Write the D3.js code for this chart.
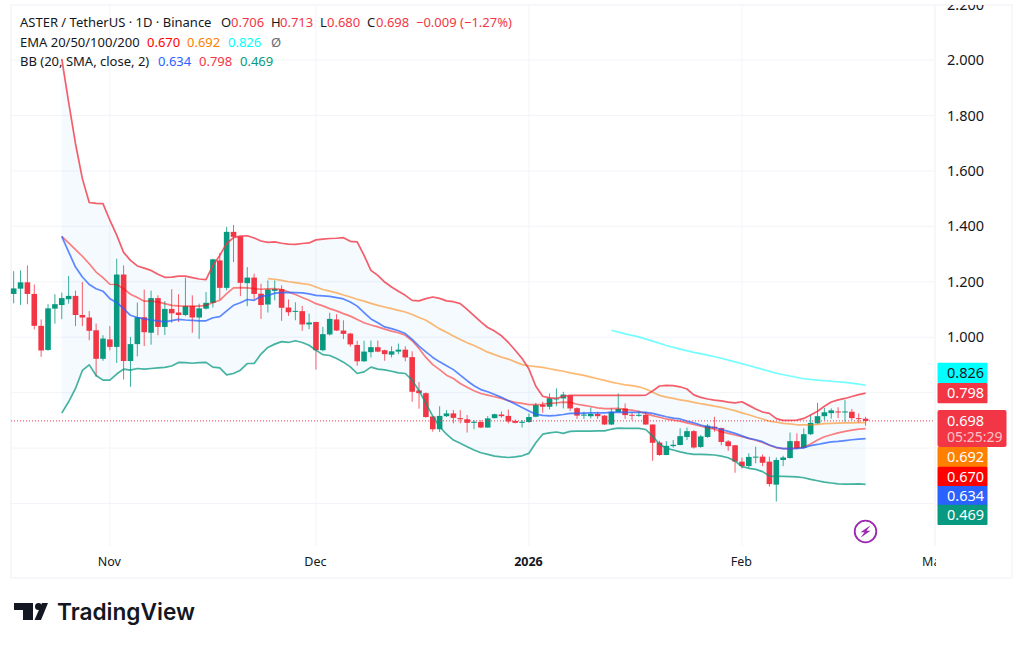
<!DOCTYPE html>
<html>
<head>
	<meta charset="utf-8">
	<title>ASTER / TetherUS</title>
	<script src="https://cdn.jsdelivr.net/npm/d3@7"></script>
	<style>
		body { margin: 0; background: #fff; }
		text { font-family: "Noto Sans", sans-serif; }
	</style>
</head>
<body>
	<div id="chart"></div>
	<script>
		// candles, one per day from the first date
		const firstDate = new Date(Date.UTC(2025, 9, 18));

		const opens = [
			1.156,1.175,1.198,1.156,1.041,.954,1.103,1.116,1.137,1.149,
			1.080,1.071,1.025,.922,.992,.965,1.226,.914,.975,1.072,
			1.016,1.141,1.037,1.102,1.089,1.080,1.112,1.071,1.103,1.124,
			1.277,1.178,1.380,1.364,1.195,1.215,1.157,1.118,1.167,1.173,
			1.107,1.092,1.094,1.046,1.055,.953,1.010,1.064,1.024,1.013,
			.972,.913,.946,.964,.953,.937,.948,.955,.928,.808,
			.798,.714,.668,.715,.725,.708,.704,.691,.694,.674,
			.708,.721,.716,.698,.691,.694,.713,.756,.749,.777,
			.779,.790,.744,.717,.715,.723,.717,.685,.730,.743,
			.720,.718,.720,.685,.620,.575,.607,.611,.640,.661,
			.604,.640,.677,.672,.624,.610,.551,.535,.566,.569,
			.551,.468,.557,.564,.625,.600,.650,.689,.715,.726,
			.732,.730,.731,.708,.706
		];
		const closes = [
			1.176,1.198,1.156,1.041,.952,1.104,1.119,1.141,1.149,1.080,
			1.071,1.023,.922,.995,.965,1.226,.914,.975,1.072,1.018,
			1.141,1.037,1.102,1.086,1.080,1.112,1.071,1.104,1.124,1.281,
			1.178,1.380,1.362,1.196,1.215,1.156,1.116,1.172,1.173,1.106,
			1.090,1.095,1.046,1.053,.953,1.011,1.066,1.024,1.012,.974,
			.913,.948,.964,.948,.939,.949,.955,.927,.803,.798,
			.712,.668,.716,.725,.709,.704,.691,.695,.674,.707,
			.722,.715,.696,.691,.695,.712,.755,.749,.780,.779,
			.793,.743,.717,.721,.723,.715,.685,.731,.741,.719,
			.718,.720,.685,.619,.575,.608,.612,.643,.661,.602,
			.642,.681,.671,.622,.607,.551,.535,.568,.569,.547,
			.470,.557,.566,.625,.600,.650,.691,.715,.729,.736,
			.729,.732,.708,.706,.698
		];
		const highs = [
			1.238,1.241,1.259,1.190,1.064,1.119,1.155,1.161,1.221,1.168,
			1.199,1.094,1.049,1.007,1.040,1.283,1.259,1.001,1.125,1.172,
			1.168,1.151,1.130,1.173,1.155,1.215,1.151,1.121,1.163,1.283,
			1.304,1.398,1.405,1.365,1.253,1.229,1.193,1.205,1.205,1.187,
			1.136,1.126,1.113,1.085,1.055,1.037,1.088,1.083,1.061,1.016,
			.987,.987,.988,.988,.955,.967,.977,.967,.949,.838,
			.801,.715,.751,.737,.737,.737,.719,.701,.701,.715,
			.724,.732,.739,.703,.701,.725,.763,.767,.797,.815,
			.803,.792,.747,.731,.747,.731,.719,.743,.797,.761,
			.731,.735,.731,.685,.626,.625,.629,.671,.674,.665,
			.647,.687,.713,.674,.629,.611,.566,.581,.605,.577,
			.569,.566,.572,.656,.653,.671,.721,.763,.745,.743,
			.747,.773,.741,.725,.713
		];
		const lows = [
			1.122,1.116,1.119,1.028,.929,.951,1.049,1.065,1.121,1.040,
			1.040,.989,.857,.915,.953,.907,.847,.821,.931,.968,
			.973,1.007,1.008,1.052,1.055,1.076,1.016,.994,1.100,1.107,
			1.136,1.169,1.271,1.148,1.112,1.136,1.066,1.089,1.133,1.059,
			1.077,1.061,1.023,1.029,.883,.949,1.006,1.022,.993,.966,
			.897,.911,.927,.946,.915,.927,.939,.913,.767,.742,
			.709,.659,.658,.712,.689,.689,.656,.668,.672,.673,
			.707,.710,.689,.689,.674,.691,.711,.727,.739,.751,
			.743,.734,.705,.705,.707,.705,.683,.683,.729,.705,
			.701,.713,.683,.554,.572,.574,.602,.610,.629,.598,
			.601,.637,.659,.610,.590,.511,.526,.527,.545,.535,
			.461,.407,.535,.562,.595,.598,.647,.686,.701,.706,
			.708,.695,.701,.691,.680
		];

		// bollinger bands and ema 20 start on day 7
		const bandStartDay = 7;
		const bbUpper = [
			2.004,1.848,1.698,1.572,1.486,1.483,1.482,1.422,1.368,1.306,
			1.277,1.257,1.249,1.241,1.227,1.216,1.217,1.220,1.220,1.215,
			1.210,1.208,1.259,1.295,1.338,1.359,1.365,1.366,1.358,1.347,
			1.342,1.344,1.339,1.336,1.335,1.338,1.340,1.351,1.354,1.356,
			1.357,1.359,1.346,1.344,1.295,1.241,1.223,1.199,1.181,1.166,
			1.151,1.133,1.131,1.139,1.145,1.140,1.131,1.128,1.121,1.100,
			1.078,1.055,1.035,1.022,1.005,.981,.953,.923,.885,.823,
			.787,.781,.779,.787,.790,.790,.790,.790,.790,.790,
			.790,.790,.790,.790,.790,.791,.806,.824,.826,.825,
			.821,.813,.792,.783,.777,.773,.770,.766,.763,.767,
			.754,.741,.730,.725,.706,.700,.700,.701,.707,.719,
			.733,.751,.766,.774,.779,.786,.793,.798
		];
		const bbBasis = [
			1.364,1.308,1.253,1.217,1.190,1.175,1.166,1.139,1.125,1.103,
			1.079,1.071,1.066,1.062,1.059,1.055,1.060,1.064,1.062,1.061,
			1.059,1.059,1.070,1.074,1.095,1.115,1.124,1.136,1.133,1.148,
			1.150,1.159,1.161,1.162,1.161,1.160,1.156,1.151,1.149,1.147,
			1.143,1.138,1.127,1.112,1.089,1.066,1.052,1.037,1.031,1.023,
			1.013,.992,.968,.947,.927,.911,.897,.883,.863,.843,
			.825,.811,.803,.793,.783,.771,.759,.746,.734,.722,
			.718,.716,.718,.721,.725,.725,.726,.727,.727,.727,
			.729,.730,.729,.729,.729,.729,.725,.719,.713,.708,
			.705,.697,.691,.683,.677,.674,.667,.660,.653,.644,
			.635,.630,.623,.611,.603,.598,.598,.599,.601,.609,
			.613,.618,.622,.624,.627,.630,.632,.634
		];
		const bbLower = [
			.726,.767,.815,.880,.900,.862,.845,.845,.867,.885,
			.881,.887,.885,.887,.889,.891,.896,.909,.908,.906,
			.908,.909,.892,.889,.864,.869,.881,.905,.905,.939,
			.963,.975,.984,.981,.987,.981,.971,.953,.937,.934,
			.923,.910,.893,.869,.875,.892,.885,.882,.877,.871,
			.869,.845,.807,.761,.715,.677,.650,.629,.617,.605,
			.593,.583,.577,.571,.568,.566,.568,.572,.581,.619,
			.650,.655,.658,.653,.660,.661,.661,.661,.662,.662,
			.668,.672,.671,.671,.671,.667,.643,.614,.599,.593,
			.586,.581,.577,.577,.576,.575,.571,.565,.553,.533,
			.527,.523,.515,.499,.498,.498,.497,.496,.493,.487,
			.482,.477,.474,.471,.470,.470,.471,.469
		];
		const ema20 = [
			1.364,1.340,1.316,1.292,1.265,1.235,1.215,1.191,1.190,1.175,
			1.155,1.143,1.130,1.130,1.127,1.121,1.115,1.113,1.112,1.112,
			1.112,1.115,1.124,1.133,1.157,1.178,1.179,1.178,1.175,1.173,
			1.174,1.175,1.172,1.163,1.154,1.143,1.133,1.121,1.113,1.103,
			1.095,1.085,1.076,1.064,1.052,1.044,1.037,1.029,1.022,1.016,
			1.007,.987,.959,.927,.901,.883,.863,.851,.833,.819,
			.807,.797,.791,.785,.779,.771,.765,.761,.757,.757,
			.758,.761,.763,.766,.765,.758,.754,.750,.745,.742,
			.742,.743,.739,.737,.732,.725,.717,.711,.705,.701,
			.697,.691,.685,.679,.674,.668,.659,.653,.647,.641,
			.635,.628,.620,.610,.601,.598,.598,.600,.603,.615,
			.629,.641,.648,.655,.660,.665,.668,.670
		];

		const ema50StartDay = 37;
		const ema50 = [
			1.211,1.209,1.205,1.200,1.197,1.193,1.190,1.181,1.172,1.166,
			1.160,1.152,1.145,1.137,1.130,1.122,1.115,1.109,1.103,1.097,
			1.091,1.082,1.071,1.061,1.046,1.030,1.018,1.004,.992,.980,
			.970,.958,.946,.937,.928,.921,.911,.901,.897,.894,
			.891,.886,.881,.877,.871,.867,.862,.856,.850,.844,
			.838,.833,.828,.825,.821,.813,.801,.790,.784,.779,
			.774,.770,.765,.760,.756,.751,.747,.741,.735,.727,
			.720,.712,.705,.697,.693,.689,.687,.684,.684,.684,
			.685,.688,.689,.690,.691,.691,.692,.692
		];

		// ema 100 read every second day
		const ema100Days = [87,89,91,93,95,97,99,101,103,105,107,109,111,113,115,117,119,121,123,124];
		const ema100 = [1.025,1.012,1.001,.986,.970,.957,.945,.935,.924,.911,.898,.884,.870,.860,.850,.845,.841,.837,.831,.826];

		// the labels of 0.800, 0.600 and 0.400 sit behind the price tags, so only their grid lines show
		const priceTicks = [2.2, 2.0, 1.8, 1.6, 1.4, 1.2, 1.0];
		const gridTicks = [2.0, 1.8, 1.6, 1.4, 1.2, 1.0, 0.8, 0.6, 0.4];
		const monthTicks = [new Date(Date.UTC(2025, 10, 1)), new Date(Date.UTC(2025, 11, 1)), new Date(Date.UTC(2026, 0, 1)), new Date(Date.UTC(2026, 1, 1)), new Date(Date.UTC(2026, 2, 1))];
		const monthLabels = ["Nov", "Dec", "2026", "Feb", "Mar"];

		const lastPrice = 0.698;
		const lastTimer = "05:25:29";
		const tagValues = [0.826, 0.798, 0.692, 0.670, 0.634, 0.469];
		const tagColors = ["#00ffff", "#f23645", "#ff8000", "#ff0000", "#2962ff", "#089981"];
		const tagTops = [362.7, 383, 446.7, 466.7, 486, 504.7];

		const upColor = "#089981";
		const downColor = "#f23645";
		const inkColor = "#131722";
		const gridColor = "#f2f4f9";

		const width = 1024;
		const height = 647;
		const plotLeft = 11;
		const plotRight = 935;
		const plotTop = 5;
		const plotBottom = 546;
		const frameRight = 1012;
		const frameBottom = 578;

		const dayDate = i => d3.utcDay.offset(firstDate, i);

		const x = d3.scaleUtc()
			.domain([firstDate, dayDate(opens.length - 1)])
			.range([13.67, 865.6]);
		const y = d3.scaleLinear()
			.domain([0.4, 2.0])
			.range([503.5, 60]);

		const svg = d3.select("#chart").append("svg")
			.attr("width", width)
			.attr("height", height)
			.attr("viewBox", [0, 0, width, height])
			.style("display", "block");

		const defs = svg.append("defs");
		defs.append("clipPath").attr("id", "price-clip").append("rect")
			.attr("x", -12).attr("y", plotTop).attr("width", 70).attr("height", plotBottom - plotTop);
		defs.append("clipPath").attr("id", "time-clip").append("rect")
			.attr("x", plotLeft).attr("y", -10).attr("width", plotRight + 2 - plotLeft).attr("height", 30);

		// frame
		svg.append("rect")
			.attr("x", plotLeft).attr("y", plotTop)
			.attr("width", frameRight - plotLeft).attr("height", frameBottom - plotTop)
			.attr("fill", "none").attr("stroke", "#eef0f5");
		svg.append("line")
			.attr("x1", plotRight).attr("x2", plotRight).attr("y1", plotTop).attr("y2", plotBottom)
			.attr("stroke", "#eef0f5");

		// grid
		svg.append("g").selectAll("line")
			.data(gridTicks)
			.join("line")
			.attr("x1", plotLeft).attr("x2", plotRight)
			.attr("y1", d => y(d)).attr("y2", d => y(d))
			.attr("stroke", gridColor);
		svg.append("g").selectAll("line")
			.data(monthTicks.slice(0, 4))
			.join("line")
			.attr("x1", d => x(d)).attr("x2", d => x(d))
			.attr("y1", plotTop).attr("y2", plotBottom)
			.attr("stroke", gridColor);

		// axes
		const yAxis = d3.axisRight(y)
			.tickValues(priceTicks)
			.tickFormat(d3.format(".3f"))
			.tickSize(0)
			.tickPadding(0);
		svg.append("g")
			.attr("transform", `translate(${plotRight + 12},0)`)
			.attr("clip-path", "url(#price-clip)")
			.call(yAxis)
			.call(g => g.select(".domain").remove())
			.call(g => g.selectAll("text").attr("fill", inkColor).attr("font-size", 14.5).attr("font-family", '"Noto Sans", sans-serif'));

		const xAxis = d3.axisBottom(x)
			.tickValues(monthTicks)
			.tickFormat((d, i) => monthLabels[i])
			.tickSize(0)
			.tickPadding(0);
		svg.append("g")
			.attr("clip-path", "url(#time-clip)")
			.attr("transform", "translate(-1,557.5)")
			.call(xAxis)
			.call(g => g.select(".domain").remove())
			.call(g => g.selectAll("text")
				.attr("fill", inkColor)
				.attr("font-size", 12.5)
				.attr("font-family", '"Noto Sans", sans-serif')
				.attr("font-weight", (d, i) => monthLabels[i] === "2026" ? 700 : 400));

		// band fill
		const bandDays = d3.range(bbUpper.length);
		svg.append("path")
			.datum(bandDays)
			.attr("fill", "#2196f3")
			.attr("fill-opacity", 0.05)
			.attr("d", d3.area()
				.x(i => x(dayDate(i + bandStartDay)))
				.y0(i => y(bbLower[i]))
				.y1(i => y(bbUpper[i])));

		// candles
		const candleDays = d3.range(opens.length);
		const candleColor = i => closes[i] >= opens[i] ? upColor : downColor;
		const candles = svg.append("g");
		candles.selectAll("line")
			.data(candleDays)
			.join("line")
			.attr("x1", i => x(dayDate(i))).attr("x2", i => x(dayDate(i)))
			.attr("y1", i => y(highs[i])).attr("y2", i => y(lows[i]))
			.attr("stroke", candleColor)
			.attr("stroke-width", 1)
			.attr("stroke-opacity", 0.8);
		candles.selectAll("rect")
			.data(candleDays)
			.join("rect")
			.attr("x", i => x(dayDate(i)) - 2.8)
			.attr("width", 5.6)
			.attr("y", i => y(Math.max(opens[i], closes[i])))
			.attr("height", i => Math.max(1, Math.abs(y(opens[i]) - y(closes[i]))))
			.attr("fill", candleColor);

		// indicator lines
		const drawLine = (values, dayOf, color, opacity) => {
			svg.append("path")
				.datum(values)
				.attr("fill", "none")
				.attr("stroke", color)
				.attr("stroke-opacity", opacity)
				.attr("stroke-width", 1.7)
				.attr("stroke-linejoin", "round")
				.attr("d", d3.line()
					.x((d, i) => x(dayDate(dayOf(i))))
					.y(d => y(d)));
		};
		drawLine(ema100, i => ema100Days[i], "#00ffff", 0.55);
		drawLine(ema50, i => i + ema50StartDay, "#ff8000", 0.55);
		drawLine(ema20, i => i + bandStartDay, "#ff0000", 0.5);
		drawLine(bbBasis, i => i + bandStartDay, "#2962ff", 0.75);
		drawLine(bbUpper, i => i + bandStartDay, "#f23645", 0.8);
		drawLine(bbLower, i => i + bandStartDay, "#089981", 0.75);

		// last price line
		svg.append("line")
			.attr("x1", plotLeft).attr("x2", plotRight)
			.attr("y1", y(lastPrice)).attr("y2", y(lastPrice))
			.attr("stroke", downColor)
			.attr("stroke-dasharray", "1 2");

		// price tags
		const tagFormat = d3.format(".3f");
		const tagX = 937.5;
		const tagWidth = 50;
		const tags = svg.append("g");
		tagValues.forEach((v, i) => {
			tags.append("rect")
				.attr("x", tagX).attr("y", tagTops[i])
				.attr("width", tagWidth).attr("height", 20.3)
				.attr("rx", 1)
				.attr("fill", tagColors[i]);
			tags.append("text")
				.attr("x", tagX + 9.5).attr("y", tagTops[i] + 15)
				.attr("font-size", 14.5)
				.attr("fill", tagColors[i] === "#00ffff" ? inkColor : "#fff")
				.text(tagFormat(v));
		});
		tags.append("rect")
			.attr("x", tagX).attr("y", 410)
			.attr("width", 69).attr("height", 37)
			.attr("rx", 2)
			.attr("fill", downColor);
		tags.append("text")
			.attr("x", tagX + 9.5).attr("y", 425.5)
			.attr("font-size", 14.5).attr("fill", "#fff")
			.text(tagFormat(lastPrice));
		tags.append("text")
			.attr("x", tagX + 9.5).attr("y", 442)
			.attr("font-size", 14).attr("fill", "#fff").attr("fill-opacity", 0.7)
			.text(lastTimer);

		// bolt icon
		const bolt = svg.append("g").attr("transform", "translate(865.5,531.5)");
		bolt.append("circle").attr("r", 10.8).attr("fill", "#fff").attr("stroke", "#9c27b0").attr("stroke-width", 1.8);
		bolt.append("path")
			.attr("d", "M5-6.2L-5 .8H-1L-5 6.2L5-.8H1Z")
			.attr("fill", "#9c27b0");

		// legend
		const legendRows = [
			[[20, "ASTER / TetherUS · 1D · Binance", inkColor], [221, "O", inkColor], [231, "0.706", downColor], [271, "H", inkColor], [280, "0.713", downColor], [320, "L", inkColor], [327, "0.680", downColor], [367, "C", inkColor], [376, "0.698", downColor], [416, "−0.009 (−1.27%)", downColor]],
			[[20, "EMA 20/50/100/200", inkColor], [147, "0.670", "#ff0000"], [187, "0.692", "#ff8000"], [228, "0.826", "#00ffff"], [271, "Ø", "#6a6d78"]],
			[[20, "BB (20, SMA, close, 2)", inkColor], [158, "0.634", "#2962ff"], [199, "0.798", "#f23645"], [240, "0.469", "#089981"]]
		];
		legendRows.forEach((row, r) => {
			svg.append("g").selectAll("text")
				.data(row)
				.join("text")
				.attr("x", d => d[0])
				.attr("y", 27 + r * 19.5)
				.attr("font-size", 13)
				.attr("fill", d => d[2])
				.text(d => d[1]);
		});

		// logo
		const logo = svg.append("g").attr("fill", "#131722");
		logo.append("path").attr("d", "M14 603H33V620H23V610H14Z");
		logo.append("circle").attr("cx", 38.5).attr("cy", 606.5).attr("r", 3.5);
		logo.append("path").attr("d", "M42 603H48L41 620H34.5Z");
		logo.append("text")
			.attr("x", 57).attr("y", 620)
			.attr("font-size", 23)
			.attr("font-weight", 600)
			.style("font-family", "Inter, sans-serif")
			.attr("textLength", 138)
			.attr("lengthAdjust", "spacingAndGlyphs")
			.text("TradingView");
	</script>
</body>
</html>
